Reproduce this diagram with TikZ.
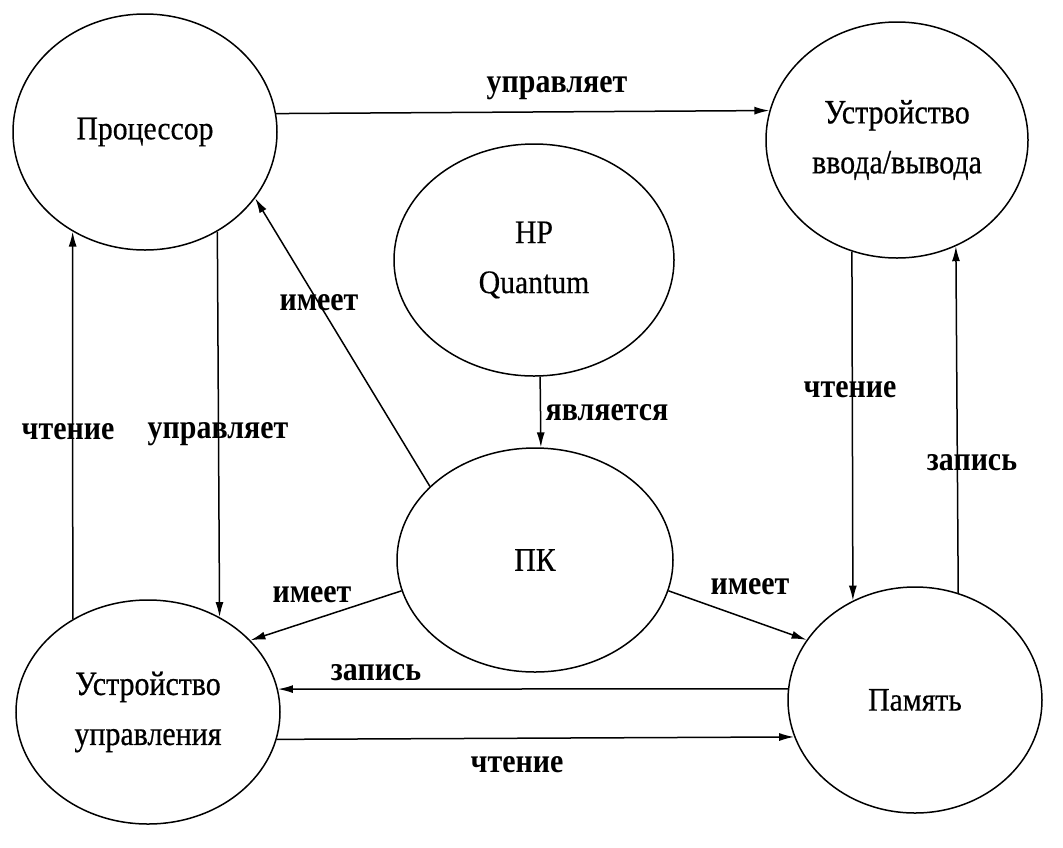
\documentclass[tikz,border=0pt]{standalone}
\usepackage{fontspec}
\setmainfont{Liberation Serif}
\newfontfamily\nodefont[FakeStretch=0.9,FakeBold=0.4]{Liberation Serif}
\newfontfamily\widenodefont[FakeStretch=0.88,FakeBold=0.6]{Liberation Serif}
\newfontfamily\lblfont[FakeStretch=0.88]{Liberation Serif}
\usetikzlibrary{shapes.geometric,arrows.meta}
\tikzset{
  ell/.style n args={2}{ellipse, draw, line width=1.5pt, inner sep=0pt,
    minimum width=#1pt, minimum height=#2pt,
    font=\nodefont\fontsize{33}{50}\selectfont, align=center},
  wide/.style={font=\widenodefont\fontsize{34}{50}\selectfont},
  arr/.style={line width=1.5pt, -{Latex[length=15pt,width=8pt]}},
  lbl/.style={font=\lblfont\bfseries\fontsize{34}{38}\selectfont, inner sep=0pt}
}
\begin{document}
\begin{tikzpicture}[x=1pt,y=-1pt]
\useasboundingbox (0,0) rectangle (1063,847);
% nodes
\node[ell={264}{236}] (proc) at (145,132) {Процессор};
\node[ell={262}{236}, wide] (io) at (897,140) {Устройство\\ввода/вывода};
\node[ell={280}{232}] (hp) at (534,260) {HP\\Quantum};
\node[ell={276}{224}] (pk) at (535,560) {ПК};
\node[ell={264}{224}, wide] (uu) at (148,712) {Устройство\\управления};
\node[ell={254}{226}] (mem) at (915,700) {Память};
% connectors
\draw[arr] (proc.8.7) -- (io.167.6);
\draw[arr] (uu.129.2) -- (proc.234);
\draw[arr] (proc.306.7) -- (uu.53.6);
\draw[arr] (pk.145.7) -- (proc.329.4);
\draw[arr] (hp.273.5) -- (pk.87);
\draw[arr] (pk.193.7) -- (uu.35.2);
\draw[arr] (pk.347.5) -- (mem.151.8);
\draw[arr] (mem.175) -- (uu.10.1);
\draw[arr] (uu.348.6) -- (mem.197.6);
\draw[arr] (io.248.4) -- (mem.122.2);
\draw[arr] (mem.68.5) -- (io.299.8);
% labels
\node[lbl] (l1) at (557,88) {управляет};
\node[lbl] (l2) at (68,432) {чтение};
\node[lbl] (l3) at (218,434) {управляет};
\node[lbl] (l4) at (319,303) {имеет};
\node[lbl] (l5) at (607,413) {является};
\node[lbl] (l6) at (312,595) {имеет};
\node[lbl] (l7) at (750,587) {имеет};
\node[lbl] (l8) at (376,673) {запись};
\node[lbl] (l9) at (517,765) {чтение};
\node[lbl] (l10) at (850,390) {чтение};
\node[lbl] (l11) at (972,463) {запись};
\end{tikzpicture}
\end{document}
